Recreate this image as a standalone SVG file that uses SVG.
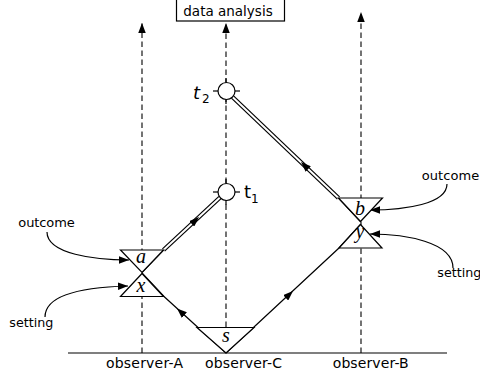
<svg xmlns="http://www.w3.org/2000/svg" width="480" height="377" viewBox="0 0 480 377">
<style>
.ln{fill:none;stroke:#000;stroke-width:1.2}
.dash{fill:none;stroke:#000;stroke-width:1.1;stroke-dasharray:5.5 3.5}
.tri{fill:#fff;stroke:#000;stroke-width:1.2;stroke-linejoin:miter}
.dblo{fill:none;stroke:#000;stroke-width:4.4}
.dbli{fill:none;stroke:#fff;stroke-width:2}
.mk{fill:none;stroke:none}
.lab{font-family:"DejaVu Sans",sans-serif;fill:#000}
.math{font-family:"Liberation Serif",serif;font-style:italic;font-size:20px;fill:#000;text-anchor:middle}
.circ{fill:#fff;stroke:#000;stroke-width:1.2}
</style>
<defs>
<marker id="ah" viewBox="0 0 10 7.5" refX="10" refY="3.75" markerWidth="10" markerHeight="7.5" markerUnits="userSpaceOnUse" orient="auto">
<path d="M0,0 L10,3.75 L0,7.5 z" fill="#000" stroke="none"/>
</marker>
</defs>

<g id="baseline"><line class="ln" x1="68" y1="353" x2="447" y2="353"/></g>

<g id="connectors">
<path class="dash" d="M142,353 L142,23" marker-end="url(#ah)"/>
<path class="dash" d="M226,327 L226,23" marker-end="url(#ah)"/>
<path class="dash" d="M361,353 L361,12" marker-end="url(#ah)"/>
<path class="ln" d="M226,353 L164,296.5 L142,273"/>
<path class="ln" d="M226,353 L339,248 L360.5,224.5"/>
<path class="ln" d="M142,272.5 L163.5,250"/>
<path class="ln" d="M360.5,221.5 L338.5,198"/>
<path class="dblo" d="M163.5,250 L220,197.5"/>
<path class="dbli" d="M163.5,250 L220,197.5"/>
<path class="dblo" d="M338.5,198 L232.5,97"/>
<path class="dbli" d="M338.5,198 L232.5,97"/>
<path class="mk" d="M226,353 L177,308.4" marker-end="url(#ah)"/>
<path class="mk" d="M226,353 L293,291" marker-end="url(#ah)"/>
<path class="mk" d="M163.5,250 L199,217" marker-end="url(#ah)"/>
<path class="mk" d="M338.5,198 L301,162" marker-end="url(#ah)"/>
<path class="ln" d="M47,232 C47,254 95,260 129,260" marker-end="url(#ah)"/>
<path class="ln" d="M45,317 C45,293 90,287 128,286" marker-end="url(#ah)"/>
<path class="ln" d="M447,184 C447,204 405,210 370,210" marker-end="url(#ah)"/>
<path class="ln" d="M453,268 C453,242 405,234 370,234" marker-end="url(#ah)"/>
</g>

<g id="node-a"><polygon class="tri" points="120.5,250 163.5,250 142,272.5"/><text class="math" x="141" y="263">a</text></g>
<g id="node-x"><polygon class="tri" points="142,273.5 163.5,296.5 120.5,296.5"/><text class="math" x="141" y="292">x</text></g>
<g id="node-b"><polygon class="tri" points="338.5,198 382.5,198 360.5,221.5"/><text class="math" x="360" y="215">b</text></g>
<g id="node-y"><polygon class="tri" points="360.5,224.5 382,248 339,248"/><text class="math" x="360" y="238">y</text></g>
<g id="node-s"><polygon class="tri" points="197,327.5 254,327.5 226,353"/><text class="math" x="226" y="342">s</text></g>

<g id="node-t1">
<line class="ln" x1="213" y1="192" x2="240" y2="192"/>
<line class="ln" x1="226" y1="179" x2="226" y2="205"/>
<circle class="circ" cx="226.5" cy="192" r="8.5"/>
<text class="lab" x="244" y="198" font-size="18">t</text><text class="lab" x="251" y="202.5" font-size="12">1</text>
</g>
<g id="node-t2">
<line class="ln" x1="213" y1="91" x2="240" y2="91"/>
<line class="ln" x1="226" y1="78" x2="226" y2="104"/>
<circle class="circ" cx="226.5" cy="91" r="8.5"/>
<text class="lab" x="193" y="99" font-size="18" font-style="italic">t</text><text class="lab" x="202" y="102.5" font-size="12">2</text>
</g>

<g id="node-data-analysis">
<rect x="176.5" y="-5" width="108" height="26" fill="#fff" stroke="#000" stroke-width="1.2"/>
<text class="lab" x="183.3" y="15.5" font-size="13.5" textLength="89.4">data analysis</text>
</g>

<g id="labels">
<text class="lab" x="106" y="368" font-size="14" textLength="77">observer-A</text>
<text class="lab" x="205" y="368" font-size="14" textLength="77">observer-C</text>
<text class="lab" x="332.7" y="368" font-size="14" textLength="76">observer-B</text>
<text class="lab" x="18.3" y="227" font-size="13" textLength="56.5">outcome</text>
<text class="lab" x="9.3" y="327" font-size="12.7" textLength="44">setting</text>
<text class="lab" x="421.7" y="180" font-size="13" textLength="57.5">outcome</text>
<text class="lab" x="437.3" y="277" font-size="12.7" textLength="44">setting</text>
</g>
</svg>
